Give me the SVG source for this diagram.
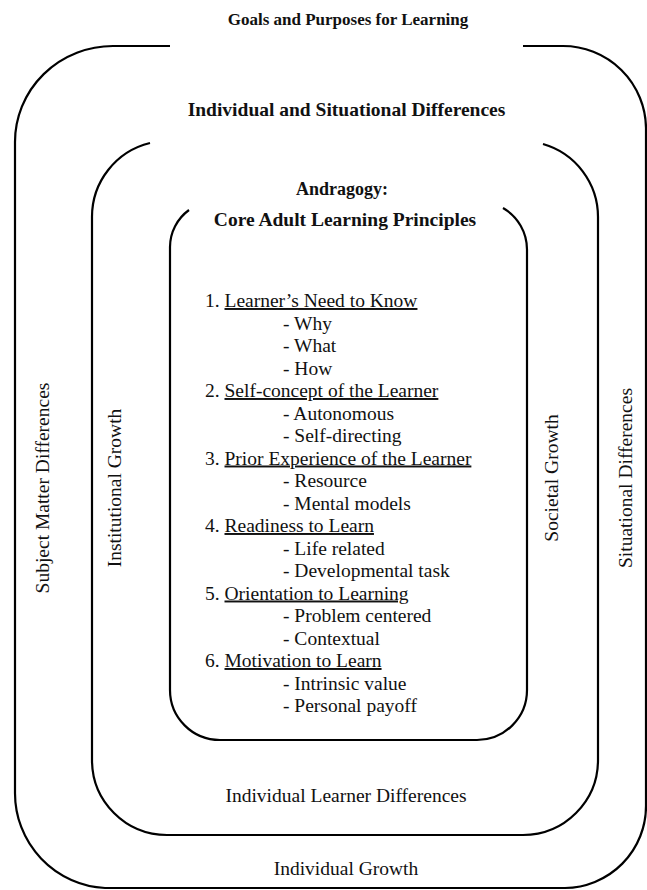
<svg xmlns="http://www.w3.org/2000/svg" width="647" height="890" viewBox="0 0 647 890">
<style>
.frame{fill:none;stroke:#000;stroke-width:2.2;stroke-linecap:butt}
text{font-family:"Liberation Serif","Times New Roman",serif;font-size:19.5px;fill:#111}
.b{font-weight:bold}
.c{text-anchor:middle}
.u{text-decoration:underline}
</style>
<rect width="647" height="890" fill="#fff"/>
<g id="outer">
<path class="frame" d="M170 46 L113 46 A98 96 0 0 0 15 142 L15 793 A95 95 0 0 0 105 888 L565 888 A82 82 0 0 0 646 806 L646 128 A83 83 0 0 0 563 46 L523 46"/>
<text class="b c" x="348" y="25" style="font-size:17px">Goals and Purposes for Learning</text>
<text transform="translate(49,488) rotate(-90)" class="c">Subject Matter Differences</text>
<text transform="translate(632,478) rotate(-90)" class="c">Situational Differences</text>
<text class="c" x="346" y="875">Individual Growth</text>
</g>
<g id="middle">
<path class="frame" d="M150 143 A76 76 0 0 0 92 217 L92 760 A75 75 0 0 0 167 835 L523 835 A75 75 0 0 0 598 760 L598 217 A76 76 0 0 0 543 144"/>
<text class="b c" x="346.5" y="116">Individual and Situational Differences</text>
<text transform="translate(121,488) rotate(-90)" class="c">Institutional Growth</text>
<text transform="translate(558,478) rotate(-90)" class="c">Societal Growth</text>
<text class="c" x="346" y="802">Individual Learner Differences</text>
</g>
<g id="inner">
<path class="frame" d="M189 210 A46 46 0 0 0 170 247 L170 690 A50 50 0 0 0 220 740 L477 740 A50 50 0 0 0 527 690 L527 250 A48 48 0 0 0 503 208"/>
<text class="b c" x="342" y="195" style="font-size:18px">Andragogy:</text>
<text class="b c" x="345" y="226">Core Adult Learning Principles</text>
<text x="205" y="307">1. <tspan class="u">Learner’s Need to Know</tspan></text>
<text x="283" y="329.5">- Why</text>
<text x="283" y="352">- What</text>
<text x="283" y="374.5">- How</text>
<text x="205" y="397">2. <tspan class="u">Self-concept of the Learner</tspan></text>
<text x="283" y="419.5">- Autonomous</text>
<text x="283" y="442">- Self-directing</text>
<text x="205" y="464.5">3. <tspan class="u">Prior Experience of the Learner</tspan></text>
<text x="283" y="487">- Resource</text>
<text x="283" y="509.5">- Mental models</text>
<text x="205" y="532">4. <tspan class="u">Readiness to Learn</tspan></text>
<text x="283" y="554.5">- Life related</text>
<text x="283" y="577">- Developmental task</text>
<text x="205" y="599.5">5. <tspan class="u">Orientation to Learning</tspan></text>
<text x="283" y="622">- Problem centered</text>
<text x="283" y="644.5">- Contextual</text>
<text x="205" y="667">6. <tspan class="u">Motivation to Learn</tspan></text>
<text x="283" y="689.5">- Intrinsic value</text>
<text x="283" y="712">- Personal payoff</text>
</g>
</svg>
